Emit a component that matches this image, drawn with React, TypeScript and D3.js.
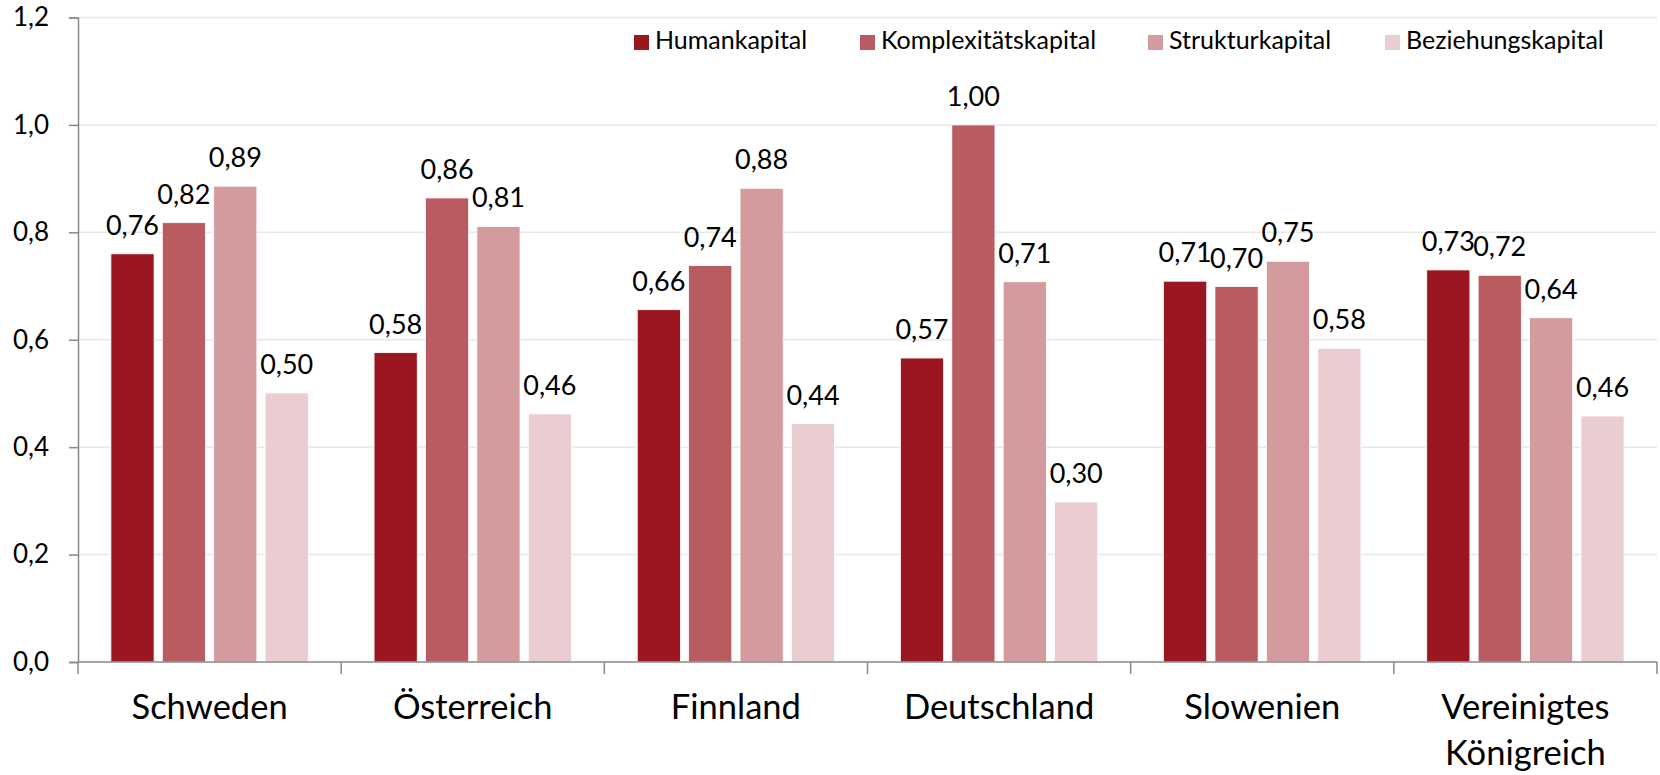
import React, { useEffect, useRef } from 'react';
import * as d3 from 'd3';

const countries = ['Schweden', 'Österreich', 'Finnland', 'Deutschland', 'Slowenien', 'Vereinigtes Königreich'];
const seriesNames = ['Humankapital', 'Komplexitätskapital', 'Strukturkapital', 'Beziehungskapital'];
const seriesColors = ['#9a1720', '#b85c62', '#d49b9f', '#eacdd0'];

const humankapital = [0.76, 0.576, 0.656, 0.566, 0.709, 0.73];
const komplexitaetskapital = [0.818, 0.864, 0.738, 1.0, 0.699, 0.72];
const strukturkapital = [0.886, 0.811, 0.882, 0.708, 0.746, 0.641];
const beziehungskapital = [0.501, 0.462, 0.444, 0.298, 0.584, 0.458];

const yTicks = [0, 0.2, 0.4, 0.6, 0.8, 1.0, 1.2];

const W = 1660;
const H = 775;
const FONT = 'Lato, "Open Sans", sans-serif';

const App: React.FC = () => {
  const svgRef = useRef<SVGSVGElement | null>(null);

  useEffect(() => {
    document.body.style.margin = '0';
    if (!svgRef.current) return;
    const svg = d3.select(svgRef.current);
    svg.selectAll('*').remove();

    const allSeries = [humankapital, komplexitaetskapital, strukturkapital, beziehungskapital];
    const rows = countries.map((c, i) => ({
      country: c,
      values: seriesNames.map((s, j) => ({ key: s, value: allSeries[j][i], color: seriesColors[j] })),
    }));

    const x0 = d3.scaleBand().domain(countries).range([78, 1657]).padding(0);
    const x1 = d3.scaleBand().domain(seriesNames).range([0, x0.bandwidth()]).paddingInner(0.16).paddingOuter(0.64);
    const y = d3.scaleLinear().domain([0, 1.2]).range([662, 17.5]);

    // gridlines
    svg.append('g')
      .selectAll('line')
      .data(yTicks.filter(t => t > 0))
      .enter().append('line')
      .attr('x1', 78).attr('x2', 1657)
      .attr('y1', d => y(d)).attr('y2', d => y(d))
      .attr('stroke', '#e8e8e8').attr('stroke-width', 1.5);

    // bars
    const groups = svg.append('g')
      .selectAll('g')
      .data(rows)
      .enter().append('g')
      .attr('transform', d => `translate(${x0(d.country)},0)`);

    groups.selectAll('rect')
      .data(d => d.values)
      .enter().append('rect')
      .attr('x', d => x1(d.key) || 0)
      .attr('y', d => y(d.value))
      .attr('width', x1.bandwidth())
      .attr('height', d => y(0) - y(d.value))
      .attr('fill', d => d.color)
      .attr('stroke', '#ffffff')
      .attr('stroke-width', 0.8);

    groups.selectAll('text')
      .data(d => d.values)
      .enter().append('text')
      .attr('x', d => (x1(d.key) || 0) + x1.bandwidth() / 2)
      .attr('y', d => y(d.value) - 19)
      .attr('text-anchor', 'middle')
      .attr('font-family', FONT)
      .attr('font-size', 27)
      .attr('fill', '#000')
      .text(d => (Math.round(d.value * 100) / 100).toFixed(2).replace('.', ','));

    // y axis
    const yAxis = svg.append('g').attr('transform', 'translate(78,0)');
    yAxis.call(d3.axisLeft(y).tickValues(yTicks).tickSize(9).tickPadding(20)
      .tickFormat(d => d3.format('.1f')(d as number).replace('.', ',')));
    yAxis.select('.domain').attr('stroke', '#898989').attr('stroke-width', 1.5);
    yAxis.selectAll('.tick line').attr('stroke', '#898989').attr('stroke-width', 1.5);
    yAxis.selectAll('.tick text')
      .attr('font-family', FONT)
      .attr('font-size', 26)
      .attr('fill', '#000');

    // x axis
    svg.append('line')
      .attr('x1', 78).attr('x2', 1657)
      .attr('y1', y(0)).attr('y2', y(0))
      .attr('stroke', '#898989').attr('stroke-width', 1.5);
    const boundaries = countries.map(c => x0(c) || 0).concat([1657]);
    svg.append('g').selectAll('line')
      .data(boundaries)
      .enter().append('line')
      .attr('x1', d => d).attr('x2', d => d)
      .attr('y1', y(0)).attr('y2', y(0) + 12)
      .attr('stroke', '#898989').attr('stroke-width', 1.5);

    const xl = svg.append('g').selectAll('text')
      .data(countries)
      .enter().append('text')
      .attr('x', d => (x0(d) || 0) + x0.bandwidth() / 2)
      .attr('y', 719)
      .attr('text-anchor', 'middle')
      .attr('font-family', FONT)
      .attr('font-size', 34.5)
      .attr('fill', '#000');
    xl.each(function (d) {
      const words = d.split(' ');
      const t = d3.select(this);
      words.forEach((w, i) => {
        t.append('tspan')
          .attr('x', (x0(d) || 0) + x0.bandwidth() / 2)
          .attr('dy', i === 0 ? 0 : 46)
          .text(w);
      });
    });

    // legend
    const legendX = [634, 860, 1148, 1385];
    const legend = svg.append('g').selectAll('g')
      .data(seriesNames)
      .enter().append('g')
      .attr('transform', (d, i) => `translate(${legendX[i]},35)`);
    legend.append('rect')
      .attr('width', 15).attr('height', 15)
      .attr('fill', (d, i) => seriesColors[i]);
    legend.append('text')
      .attr('x', 21).attr('y', 14)
      .attr('font-family', FONT)
      .attr('font-size', 25)
      .attr('fill', '#000')
      .text(d => d);
  }, []);

  return (
    <svg ref={svgRef} width={W} height={H} style={{ position: 'absolute', left: 0, top: 0, background: '#fff' }} />
  );
};

export default App;
